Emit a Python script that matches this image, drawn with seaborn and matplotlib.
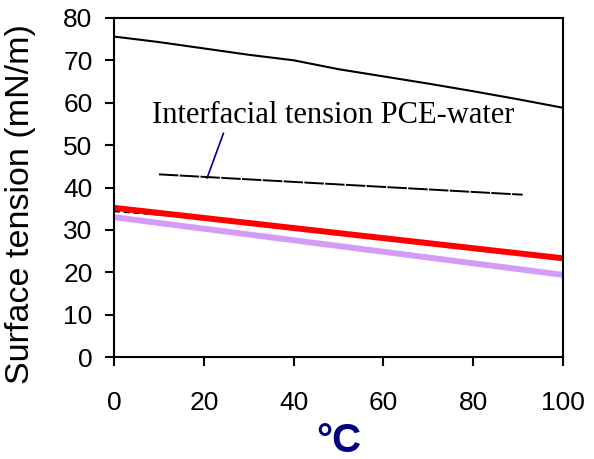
import matplotlib
matplotlib.use("Agg")
import matplotlib.pyplot as plt
import seaborn as sns
import pandas as pd

# Data
water_t = [0, 10, 20, 30, 40, 50, 60, 70, 80, 90, 100]
water_st = [75.6, 74.3, 72.8, 71.3, 70.0, 67.9, 66.2, 64.5, 62.7, 60.8, 58.8]
ift_t = [10, 91]
ift_st = [43.1, 38.3]
short_t = [0, 15]
short_st = [34.4, 33.2]
red_t = [0, 100]
red_st = [35.2, 23.3]
purple_t = [0, 100]
purple_st = [33.0, 19.4]
xticks = [0, 20, 40, 60, 80, 100]
yticks = [0, 10, 20, 30, 40, 50, 60, 70, 80]

sns.set_style("ticks")
plt.rcParams['font.family'] = ['Liberation Sans', 'DejaVu Sans']
plt.rcParams['text.color'] = 'black'
plt.rcParams['axes.labelcolor'] = 'black'

fig = plt.figure(figsize=(5.94, 4.59), dpi=100)
ax = fig.add_axes([0.192, 0.222, 0.756, 0.739])

sns.lineplot(x=water_t, y=water_st, ax=ax, color="black", lw=1.5)
sns.lineplot(x=ift_t, y=ift_st, ax=ax, color="black", lw=1.4, linestyle=(0, (10, 0.7)))
sns.lineplot(x=short_t, y=short_st, ax=ax, color="black", lw=1.4, linestyle=(0, (3, 2)))
sns.lineplot(x=purple_t, y=purple_st, ax=ax, color="#D49CF7", lw=4.3)
sns.lineplot(x=red_t, y=red_st, ax=ax, color="#FF0000", lw=4.3)

ax.set_xlim(0, 100)
ax.set_ylim(0, 80)
ax.set_xticks(xticks)
ax.set_yticks(yticks)
ax.tick_params(axis='both', direction='out', length=6.5, width=1.5, labelsize=19, colors='black')
ax.tick_params(axis='x', pad=18)
ax.tick_params(axis='y', pad=9)
for s in ax.spines.values():
    s.set_visible(True)
    s.set_linewidth(1.5)
    s.set_color('black')

ax.set_ylabel("Surface tension (mN/m)", fontsize=24.5, color='black')
ax.yaxis.set_label_coords(-0.174, 0.452)
ax.set_xlabel("°C", fontsize=29, fontweight='bold', color='#000080', labelpad=5)

ax.annotate("Interfacial tension PCE-water", xy=(20.7, 42.2), xytext=(8.5, 57.0),
            fontsize=22, family=['Liberation Serif', 'DejaVu Serif'], color='black',
            ha='left', va='center',
            arrowprops=dict(arrowstyle='-', color='#000080', lw=1.2,
                            shrinkA=0, shrinkB=0, relpos=(0.2, 0.0)))

fig.savefig("out.png", dpi=100)
